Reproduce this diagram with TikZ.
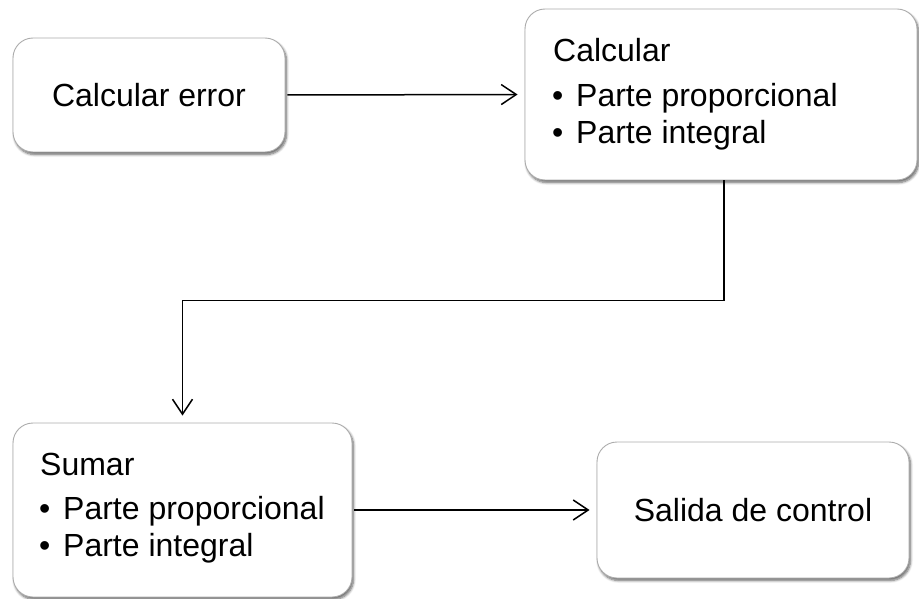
\documentclass[tikz,border=0pt]{standalone}
\usepackage{fontspec}
\setmainfont{Liberation Sans}
\usetikzlibrary{arrows.meta,shadows.blur}

\tikzset{
  stepbox/.style={draw=gray!65, line width=0.9pt, fill=white,
    rounded corners=20pt, inner sep=0pt,
    blur shadow={shadow xshift=1.5pt, shadow yshift=-2.5pt,
      shadow blur radius=2.5pt, shadow blur steps=6, shadow opacity=60}},
  label/.style={inner sep=0pt, anchor=base west},
  flow/.style={draw=black, line width=1.5pt,
    -{Straight Barb[length=15pt, width=20pt, line width=1.5pt]},
    shorten >=7pt},
}
% bullet item: dot, then the text at a fixed indent
\newcommand{\bulletitem}[1]{\makebox[23pt][l]{\hspace{-1pt}•}#1}

\begin{document}
\begin{tikzpicture}[x=1pt, y=-1pt, font=\fontsize{32}{38}\selectfont]
\useasboundingbox (0,0) rectangle (919,599);

% process boxes
\node[stepbox, minimum width=272pt, minimum height=114pt] (err) at (149,95) {Calcular error};
\node[stepbox, minimum width=392pt, minimum height=171pt] (calc) at (721,94.5) {};
\node[stepbox, minimum width=312pt, minimum height=136pt] (out) at (753,510) {Salida de control};
\node[stepbox, minimum width=339pt, minimum height=174pt] (sum) at (182.5,510) {};

% box contents
\node[label] (calcH) at (553,62) {Calcular};
\node[label] (calcP) at (553,107) {\bulletitem{Parte proporcional}};
\node[label] (calcI) at (553,144) {\bulletitem{Parte integral}};

\node[label] (sumH) at (40,475) {Sumar};
\node[label] (sumP) at (40,519) {\bulletitem{Parte proporcional}};
\node[label] (sumI) at (40,556) {\bulletitem{Parte integral}};

% connectors
\draw[flow, shorten <=2pt] (err.east) -- (calc.west);
\draw[flow] ([xshift=3pt]calc.south) -- ++(0,120) -| (sum.north);
\draw[flow, shorten <=2pt] (sum.east) -- (out.west);
\end{tikzpicture}
\end{document}
